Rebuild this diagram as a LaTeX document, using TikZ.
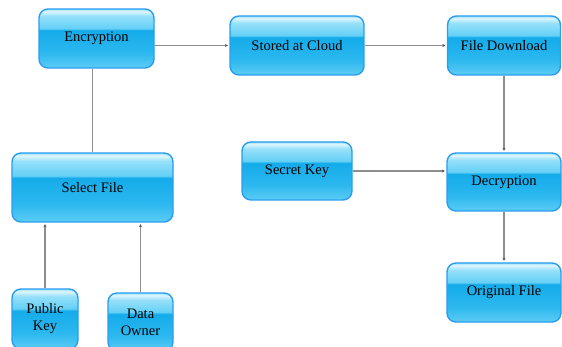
\documentclass[tikz,border=0pt]{standalone}
\usepackage{fontspec}
\setmainfont{Liberation Serif}
\usetikzlibrary{arrows.meta}

\definecolor{boxedge}{HTML}{2A9DF0}
\definecolor{wire}{HTML}{8E8E8E}
\definecolor{tipcol}{HTML}{555555}

% glossy blue fill; the visible part of the shading runs from 25bp (bottom) to 75bp (top)
\pgfdeclareverticalshading{gloss}{100bp}{%
  color(0bp)=({rgb,255:red,92;green,204;blue,245});%
  color(25bp)=({rgb,255:red,92;green,204;blue,245});%
  color(38bp)=({rgb,255:red,44;green,184;blue,239});%
  color(57bp)=({rgb,255:red,20;green,171;blue,234});%
  color(58.5bp)=({rgb,255:red,100;green,208;blue,246});%
  color(69bp)=({rgb,255:red,150;green,224;blue,250});%
  color(73bp)=({rgb,255:red,222;green,246;blue,254});%
  color(75bp)=({rgb,255:red,160;green,226;blue,251});%
  color(100bp)=({rgb,255:red,160;green,226;blue,251})}

\tikzset{
  gbox/.style={draw=boxedge, line width=1.4pt, rounded corners=9pt,
    shading=gloss, align=center, inner sep=2pt,
    font=\fontsize{14.5}{17}\selectfont, text=black},
  link/.style={draw=wire, line width=1.1pt,
    -{Stealth[length=3pt,width=3pt,color=tipcol]}, shorten >=1.5pt},
  plain/.style={draw=wire, line width=1.1pt}
}

\begin{document}
\begin{tikzpicture}[x=1pt,y=-1pt]
  \useasboundingbox (0,0) rectangle (562,347);
  \begin{scope}
    \clip (0,0) rectangle (562,347);

    % top row
    \node[gbox, minimum width=115pt, minimum height=59pt] (enc) at (96.5,38.5) {Encryption};
    \node[gbox, minimum width=134pt, minimum height=59pt] (cloud) at (297,45.5) {Stored at Cloud};
    \node[gbox, minimum width=113pt, minimum height=59pt] (down) at (504,45.5) {File Download};

    % middle row
    \node[gbox, minimum width=161pt, minimum height=69pt] (sel) at (92.5,187.5) {Select File};
    \node[gbox, minimum width=110pt, minimum height=58pt] (key) at (297,171) {Secret Key};
    \node[gbox, minimum width=114pt, minimum height=58pt] (dec) at (504,182) {Decryption};

    % bottom row
    \node[gbox, minimum width=66pt, minimum height=60pt] (pub) at (45,319) {Public\\Key};
    \node[gbox, minimum width=65pt, minimum height=58pt] (own) at (140.5,322) {Data\\Owner};
    \node[gbox, minimum width=114pt, minimum height=59pt] (orig) at (504,292.5) {Original File};

    % connectors
    \draw[link] (enc.east |- 0,45.5) -- (cloud.west);
    \draw[link] (cloud.east) -- (down.west);
    \draw[plain] (enc.south -| 92.5,0) -- (sel.north);
    \draw[link] (down.south) -- (dec.north);
    \draw[link] (key.east) -- (dec.west |- key.east);
    \draw[link] (dec.south) -- (orig.north);
    \draw[link] (pub.north) -- (pub.north |- sel.south);
    \draw[link] (own.north) -- (own.north |- sel.south);
  \end{scope}
\end{tikzpicture}
\end{document}
